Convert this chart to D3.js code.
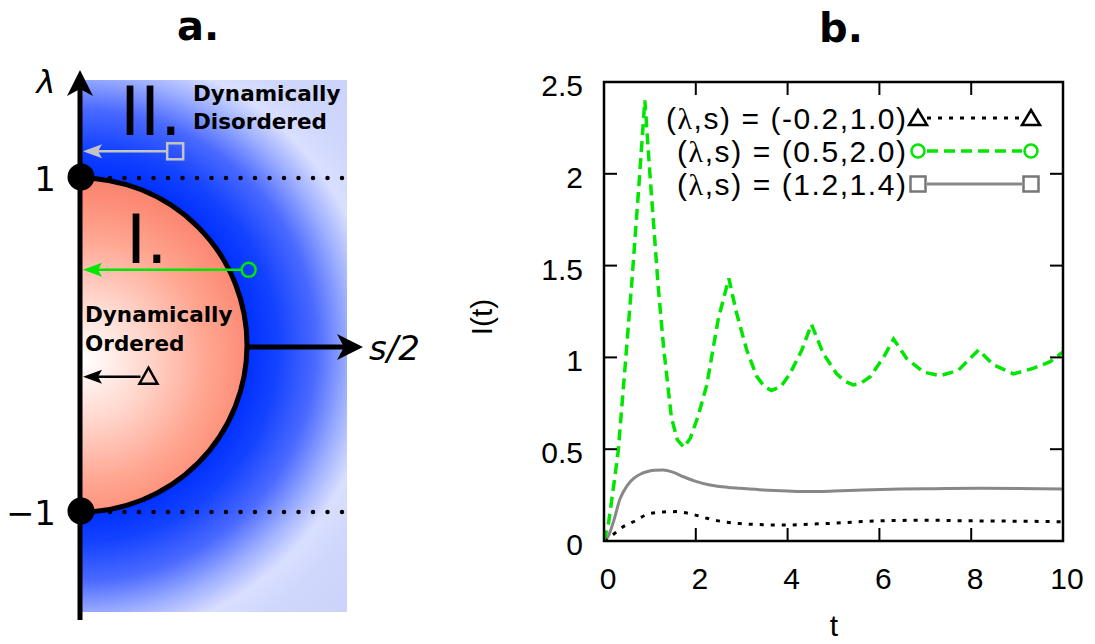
<!DOCTYPE html>
<html lang="en">
<head>
  <meta charset="UTF-8">
  <title>Phase diagram and I(t)</title>
  <script src="https://d3js.org/d3.v7.min.js"></script>
  <style>
    body { margin: 0; background: #fff; }
    svg { display: block; }
  </style>
</head>
<body>
  <svg id="chart" width="1095" height="644"></svg>

  <script>
    // ---- data ----
    const seriesParams = ["(-0.2,1.0)", "(0.5,2.0)", "(1.2,1.4)"];

    const blackT = [0, 0.2, 0.4, 0.64, 1.0, 1.3, 1.58, 1.9, 2.24, 2.6, 2.96, 3.33, 3.94, 4.5, 4.92, 5.5, 6.01, 7.0, 7.97, 9.0, 10];
    const blackI = [0, 0.035, 0.075, 0.105, 0.15, 0.158, 0.16, 0.147, 0.124, 0.105, 0.095, 0.09, 0.087, 0.092, 0.096, 0.104, 0.11, 0.113, 0.11, 0.108, 0.105];

    const greenT = [0, 0.1, 0.2, 0.31, 0.45, 0.6, 0.75, 0.89, 1.0, 1.18, 1.3, 1.47, 1.6, 1.74, 1.88, 2.05, 2.24, 2.49, 2.72,
                    2.89, 3.11, 3.33, 3.5, 3.65, 3.85, 4.05, 4.31, 4.52, 4.78, 5.07, 5.25, 5.43, 5.6, 5.8, 6.09, 6.31,
                    6.59, 6.96, 7.32, 7.72, 7.94, 8.16, 8.48, 8.92, 9.35, 9.72, 10];
    const greenI = [0, 0.1, 0.28, 0.49, 0.92, 1.39, 1.9, 2.4, 2.0, 1.39, 1.05, 0.67, 0.55, 0.51, 0.56, 0.68, 0.85, 1.21, 1.43,
                    1.24, 1.04, 0.895, 0.84, 0.82, 0.84, 0.91, 1.04, 1.18, 1.02, 0.91, 0.87, 0.85, 0.86, 0.895, 1.0, 1.1,
                    0.995, 0.92, 0.9, 0.93, 0.985, 1.04, 0.96, 0.91, 0.94, 0.977, 1.03];

    const grayT = [0, 0.1, 0.2, 0.35, 0.5, 0.64, 0.8, 0.93, 1.1, 1.29, 1.5, 1.73, 2.0, 2.31, 2.7, 2.96, 3.47, 4.0, 4.41, 5.0, 5.65, 6.45, 7.2, 8.19, 9.0, 10];
    const grayI = [0, 0.03, 0.1, 0.23, 0.3, 0.34, 0.365, 0.377, 0.385, 0.387, 0.375, 0.35, 0.325, 0.305, 0.292, 0.287, 0.278, 0.272, 0.269, 0.272, 0.278, 0.283, 0.285, 0.287, 0.286, 0.283];

    const xTicks = [0, 2, 4, 6, 8, 10];
    const yTicks = [0, 0.5, 1, 1.5, 2, 2.5];

    // panel a: phase boundary at lambda = +-1, one marker per series (diagram units)
    const lambdaTicks = [1, -1];
    const markerLambda = [-0.19, 0.45, 1.16];
    const markerHalfS = [0.41, 1.01, 0.57];

    const svg = d3.select("#chart");
    const defs = svg.append("defs");

    // ================= panel a =================
    const ax0 = 80, ay0 = 345, unit = 167;
    const lam = d3.scaleLinear().domain([-1, 1]).range([ay0 + unit, ay0 - unit]);
    const half = d3.scaleLinear().domain([0, 1]).range([ax0, ax0 + unit]);

    const blueGrad = defs.append("radialGradient")
      .attr("id", "blueGrad").attr("gradientUnits", "userSpaceOnUse")
      .attr("cx", ax0).attr("cy", ay0).attr("r", 380);
    [[0.44, "#0030ff"], [0.52, "#1443ff"], [0.62, "#4a69ff"], [0.71, "#9fb0ff"], [0.78, "#d9dfff"], [0.86, "#cfd7fc"], [1, "#cbd3fb"]]
      .forEach(([o, c]) => blueGrad.append("stop").attr("offset", o).attr("stop-color", c));

    const redGrad = defs.append("radialGradient")
      .attr("id", "redGrad").attr("gradientUnits", "userSpaceOnUse")
      .attr("cx", ax0 + 5).attr("cy", ay0 + 15).attr("r", 205);
    [[0, "#ffffff"], [0.3, "#ffd6cc"], [0.6, "#ffa590"], [0.8, "#fc8b75"], [1, "#f07862"]]
      .forEach(([o, c]) => redGrad.append("stop").attr("offset", o).attr("stop-color", c));

    svg.append("rect")
      .attr("x", ax0).attr("y", 80).attr("width", 267).attr("height", 532)
      .attr("fill", "url(#blueGrad)");

    // half disc of the ordered phase
    const arcPath = `M${ax0},${lam(1)} A${unit},${unit} 0 0 1 ${ax0},${lam(-1)} Z`;
    svg.append("path").attr("d", arcPath).attr("fill", "url(#redGrad)");
    svg.append("path")
      .attr("d", `M${ax0},${lam(1)} A${unit},${unit} 0 0 1 ${ax0},${lam(-1)}`)
      .attr("fill", "none").attr("stroke", "#000").attr("stroke-width", 5);

    // dotted guides at lambda = +-1
    svg.selectAll(".guide").data(lambdaTicks).join("line")
      .attr("class", "guide")
      .attr("x1", 110).attr("x2", 345)
      .attr("y1", d => lam(d)).attr("y2", d => lam(d))
      .attr("stroke", "#000").attr("stroke-width", 4.5)
      .attr("stroke-linecap", "round").attr("stroke-dasharray", "0 14.5");

    // arrow heads
    const arrowUp = (x, y, w, h, n) => `M${x},${y} L${x + w},${y + h} L${x},${y + h - n} L${x - w},${y + h} Z`;
    const arrowRight = (x, y, w, h, n) => `M${x},${y} L${x - h},${y - w} L${x - h + n},${y} L${x - h},${y + w} Z`;
    const arrowLeft = (x, y, w, h, n) => `M${x},${y} L${x + h},${y - w} L${x + h - n},${y} L${x + h},${y + w} Z`;

    // lambda axis
    svg.append("line").attr("x1", ax0).attr("x2", ax0).attr("y1", 620).attr("y2", 86)
      .attr("stroke", "#000").attr("stroke-width", 5);
    svg.append("path").attr("d", arrowUp(ax0, 70, 13, 26, 7)).attr("fill", "#000");

    // s/2 axis
    svg.append("line").attr("x1", half(1)).attr("x2", 350).attr("y1", ay0 + 2).attr("y2", ay0 + 2)
      .attr("stroke", "#000").attr("stroke-width", 5);
    svg.append("path").attr("d", arrowRight(363, ay0 + 2, 13, 26, 7)).attr("fill", "#000");

    svg.selectAll(".bigdot").data(lambdaTicks).join("circle")
      .attr("class", "bigdot")
      .attr("cx", ax0 + 1).attr("cy", d => lam(d) - 1).attr("r", 13.5).attr("fill", "#000");

    const aFont = "'DejaVu Sans', sans-serif";
    svg.append("text").attr("x", 46).attr("y", 93).attr("text-anchor", "middle")
      .attr("font-family", aFont).attr("font-style", "italic").attr("font-size", 32).text("\u03bb");
    svg.selectAll(".lamtick").data(lambdaTicks).join("text")
      .attr("class", "lamtick")
      .attr("x", 56).attr("y", d => lam(d) + 13).attr("text-anchor", "end")
      .attr("font-family", aFont).attr("font-size", 34)
      .text(d => d < 0 ? "\u2212" + Math.abs(d) : d);
    svg.append("text").attr("x", 369).attr("y", 360)
      .attr("font-family", aFont).attr("font-style", "italic").attr("font-size", 34).text("s/2");

    svg.append("text").attr("x", 120).attr("y", 135)
      .attr("font-family", aFont).attr("font-size", 68).text("II.");
    svg.append("text").attr("x", 126).attr("y", 263)
      .attr("font-family", aFont).attr("font-size", 68).text("I.");

    const boldText = (x, y, t) => svg.append("text").attr("x", x).attr("y", y)
      .attr("font-family", aFont).attr("font-weight", "bold").attr("font-size", 21.5).text(t);
    boldText(193, 101, "Dynamically");
    boldText(193, 129, "Disordered");
    boldText(85, 322, "Dynamically");
    boldText(85, 351, "Ordered");

    // arrows from each parameter point to the lambda axis
    const markerColors = ["#000", "#00e600", "#c4c4c4"];
    markerLambda.forEach((l, i) => {
      const x = half(markerHalfS[i]), y = lam(l), c = markerColors[i];
      const startX = i === 1 ? x - 7 : x - 8;
      svg.append("line").attr("x1", startX).attr("x2", 95).attr("y1", y).attr("y2", y)
        .attr("stroke", c).attr("stroke-width", 2.5);
      svg.append("path").attr("d", arrowLeft(83, y, 7, 19, 4)).attr("fill", c);
      if (i === 0) {
        svg.append("path").attr("d", `M${x},${y - 9} L${x + 9},${y + 7} L${x - 9},${y + 7} Z`)
          .attr("fill", "none").attr("stroke", c).attr("stroke-width", 2.5);
      } else if (i === 1) {
        svg.append("circle").attr("cx", x).attr("cy", y).attr("r", 7)
          .attr("fill", "none").attr("stroke", c).attr("stroke-width", 2.5);
      } else {
        svg.append("rect").attr("x", x - 8).attr("y", y - 8).attr("width", 16).attr("height", 16)
          .attr("fill", "none").attr("stroke", c).attr("stroke-width", 2.5);
      }
    });

    // ================= panel b =================
    const bFont = "'Liberation Sans', Arial, sans-serif";
    const px0 = 604, px1 = 1063, py0 = 82, py1 = 541;
    const x = d3.scaleLinear().domain([0, 10]).range([px0, px1]);
    const y = d3.scaleLinear().domain([0, 2.5]).range([py1, py0]);

    const lineGen = (curve) => d3.line().x(d => x(d[0])).y(d => y(d[1])).curve(curve);
    const series = [
      { pts: d3.zip(blackT, blackI), color: "#000", width: 3, dash: "4 7", curve: d3.curveMonotoneX },
      { pts: d3.zip(greenT, greenI), color: "#00e600", width: 3.5, dash: "11 6", curve: d3.curveLinear },
      { pts: d3.zip(grayT, grayI), color: "#888", width: 3, dash: null, curve: d3.curveMonotoneX }
    ];

    const clip = defs.append("clipPath").attr("id", "plotClip");
    clip.append("rect").attr("x", px0).attr("y", py0).attr("width", px1 - px0).attr("height", py1 - py0);

    const plot = svg.append("g").attr("clip-path", "url(#plotClip)");
    // draw gray, black, green (green on top)
    [2, 0, 1].forEach(i => {
      const s = series[i];
      plot.append("path").datum(s.pts)
        .attr("d", lineGen(s.curve))
        .attr("fill", "none").attr("stroke", s.color).attr("stroke-width", s.width)
        .attr("stroke-dasharray", s.dash);
    });

    // ticks, inward on all four sides
    const tickLen = 13;
    const axisG = svg.append("g").attr("stroke", "#000").attr("stroke-width", 2);
    xTicks.forEach(t => {
      axisG.append("line").attr("x1", x(t)).attr("x2", x(t)).attr("y1", py1).attr("y2", py1 - tickLen);
      axisG.append("line").attr("x1", x(t)).attr("x2", x(t)).attr("y1", py0).attr("y2", py0 + tickLen);
    });
    yTicks.forEach(v => {
      axisG.append("line").attr("x1", px0).attr("x2", px0 + tickLen).attr("y1", y(v)).attr("y2", y(v));
      axisG.append("line").attr("x1", px1).attr("x2", px1 - tickLen).attr("y1", y(v)).attr("y2", y(v));
    });
    svg.append("rect").attr("x", px0).attr("y", py0).attr("width", px1 - px0).attr("height", py1 - py0)
      .attr("fill", "none").attr("stroke", "#000").attr("stroke-width", 2.5);

    svg.selectAll(".xlab").data(xTicks).join("text")
      .attr("class", "xlab")
      .attr("x", d => x(d) + 4).attr("y", py1 + 48).attr("text-anchor", "middle")
      .attr("font-family", bFont).attr("font-size", 30).text(d => d);
    svg.selectAll(".ylab").data(yTicks).join("text")
      .attr("class", "ylab")
      .attr("x", 583).attr("y", d => y(d) + 14).attr("text-anchor", "end")
      .attr("font-family", bFont).attr("font-size", 30).text(d => d);

    svg.append("text").attr("x", 834).attr("y", 636).attr("text-anchor", "middle")
      .attr("font-family", bFont).attr("font-size", 30).text("t");
    svg.append("text")
      .attr("transform", "translate(492,317) rotate(-90)")
      .attr("text-anchor", "middle")
      .attr("font-family", bFont).attr("font-size", 30).text("I(t)");

    // legend
    const legendRowY = [118, 151, 184];
    const legendWidths = [240, 229, 229];
    const lx0 = 918, lx1 = 1031;
    series.forEach((s, i) => {
      const ly = legendRowY[i];
      const lt = svg.append("text").attr("x", 906).attr("y", ly + 11).attr("text-anchor", "end")
        .attr("font-family", bFont).attr("font-size", 30)
        .attr("textLength", legendWidths[i]).attr("lengthAdjust", "spacing");
      lt.append("tspan").text("(");
      lt.append("tspan").attr("font-family", "'Liberation Serif', serif").text("\u03bb");
      lt.append("tspan").text(",s) = " + seriesParams[i]);
      svg.append("line").attr("x1", lx0 + 9).attr("x2", lx1 - 9).attr("y1", ly).attr("y2", ly)
        .attr("stroke", s.color).attr("stroke-width", s.width).attr("stroke-dasharray", s.dash);
      [lx0, lx1].forEach(mx => {
        if (i === 0) {
          svg.append("path").attr("d", `M${mx},${ly - 8} L${mx + 9},${ly + 7} L${mx - 9},${ly + 7} Z`)
            .attr("fill", "none").attr("stroke", "#000").attr("stroke-width", 2.5);
        } else if (i === 1) {
          svg.append("circle").attr("cx", mx).attr("cy", ly).attr("r", 6.5)
            .attr("fill", "#fff").attr("stroke", s.color).attr("stroke-width", 2.5);
        } else {
          svg.append("rect").attr("x", mx - 7.5).attr("y", ly - 7.5).attr("width", 15).attr("height", 15)
            .attr("fill", "#fff").attr("stroke", "#777").attr("stroke-width", 2.5);
        }
      });
    });

    // panel titles
    const titleFont = "'DejaVu Sans', sans-serif";
    svg.append("text").attr("x", 198).attr("y", 40).attr("text-anchor", "middle")
      .attr("font-family", titleFont).attr("font-weight", "bold").attr("font-size", 40).text("a.");
    svg.append("text").attr("x", 841).attr("y", 42).attr("text-anchor", "middle")
      .attr("font-family", titleFont).attr("font-weight", "bold").attr("font-size", 40).text("b.");
  </script>
</body>
</html>
